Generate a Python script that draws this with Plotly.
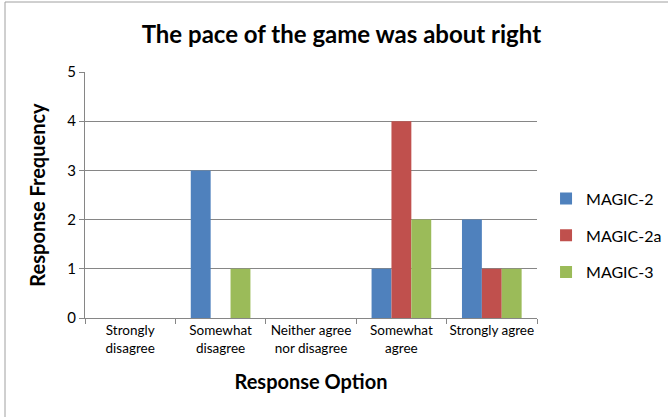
import plotly.graph_objects as go

categories = ["Strongly<br>disagree", "Somewhat<br>disagree", "Neither agree<br>nor disagree", "Somewhat<br>agree", "Strongly agree"]
magic2 = [0, 3, 0, 1, 2]
magic2a = [0, 0, 0, 4, 1]
magic3 = [0, 1, 0, 2, 1]
series_names = ["MAGIC-2", "MAGIC-2a", "MAGIC-3"]
colors = ["#4F81BD", "#C0504D", "#9BBB59"]

FONT = "Lato, Open Sans, sans-serif"

fig = go.Figure()
for name, vals, c in zip(series_names, [magic2, magic2a, magic3], colors):
    fig.add_trace(go.Bar(x=categories, y=vals, name=name, marker_color=c,
                         marker_line_width=0, legendgroup=name))

fig.update_layout(
    width=668, height=417,
    margin=dict(l=85, r=131, t=72, b=99, autoexpand=False),
    paper_bgcolor="white", plot_bgcolor="white",
    font=dict(family=FONT, size=12, color="#000000"),
    barmode="group", bargap=0.34, bargroupgap=0,
    title=dict(text="<b>The pace of the game was about right</b>", x=0.511, xanchor="center",
               y=0.917, yanchor="middle", font=dict(size=24, family=FONT, color="#000")),
    showlegend=True,
    legend=dict(x=1.02, xanchor="left", y=0.335, yanchor="middle",
                font=dict(size=16, family=FONT), tracegroupgap=13,
                itemwidth=30, traceorder="grouped"),
    xaxis=dict(showline=True, linecolor="#868686", linewidth=1, tickangle=0, automargin=False,
               ticks="outside", ticklen=5, tickcolor="#868686", tickson="boundaries",
               tickfont=dict(size=13.5), showgrid=False,
               title=dict(text="<b>Response Option</b>", font=dict(size=20), standoff=20)),
    yaxis=dict(range=[0, 5], dtick=1, showline=True, linecolor="#868686", linewidth=1,
               ticks="outside", ticklen=5, tickcolor="#868686", automargin=False,
               showgrid=True, gridcolor="#868686", gridwidth=1,
               tickfont=dict(size=15), zeroline=False,
               title=dict(text="<b>Response Frequency</b>", font=dict(size=20), standoff=16)),
    shapes=[dict(type="rect", xref="paper", yref="paper",
                 x0=(5 - 85) / 452, x1=(680 - 85) / 452,
                 y0=(318 - 430) / 246, y1=(318 - 2) / 246,
                 line=dict(color="#A0A0A0", width=1), fillcolor="rgba(0,0,0,0)", layer="below")],
)

fig.write_html("out.html", config={"displayModeBar": False},
               post_script="document.body.style.margin='0';")
